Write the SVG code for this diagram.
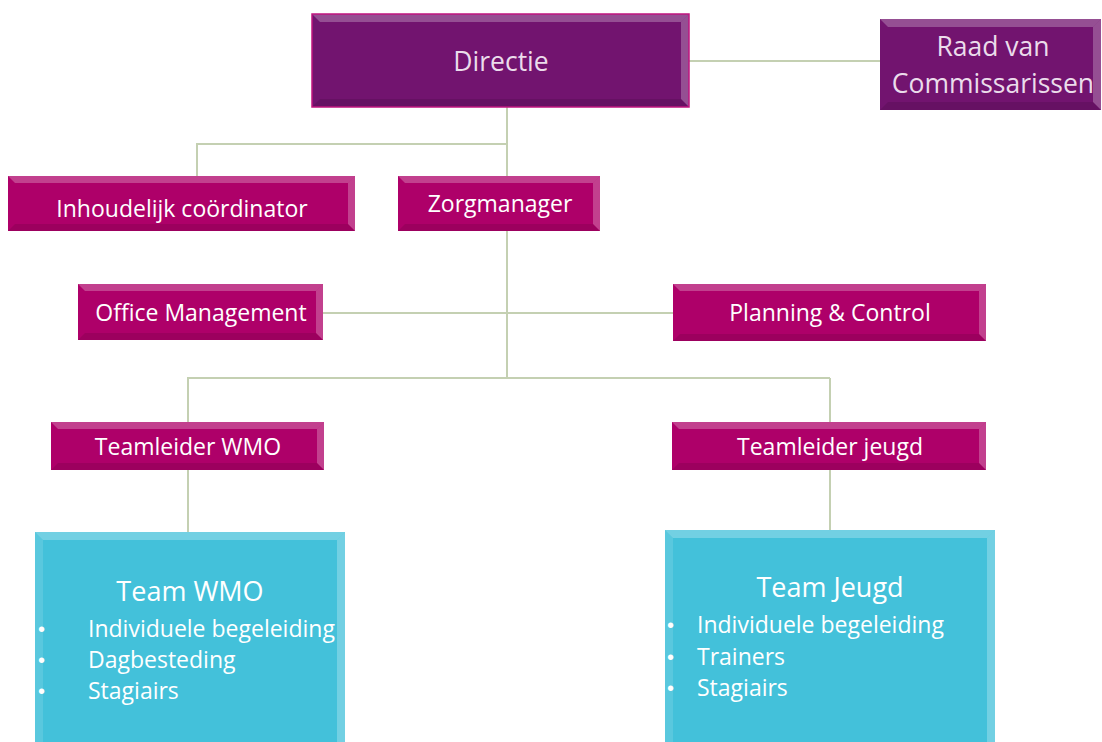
<svg xmlns="http://www.w3.org/2000/svg" width="1102" height="742" viewBox="0 0 1102 742">
<style>
.t{font-family:"Open Sans","Liberation Sans",sans-serif;fill:#ffffff;text-anchor:middle}
.s{font-size:23px}
.l{text-anchor:start}
.tp{fill:#EBDCEB}
.purple{fill:#72146F}
.mag{fill:#AE0069}
.cyan{fill:#43C1DA}
.hi{fill:#ffffff;fill-opacity:0.25}
.hi2{fill:#ffffff;fill-opacity:0.12}
.sh{fill:#000000;fill-opacity:0.10}
.conn{stroke:#C4D0B2;stroke-width:2;fill:none}
.b{font-family:"Liberation Sans",sans-serif;fill:#ffffff}
</style>
<rect width="1102" height="742" fill="#ffffff"/>
<g id="connectors">
<path class="conn" d="M689 61H880"/>
<path class="conn" d="M507 107V176"/>
<path class="conn" d="M507 144H197V176"/>
<path class="conn" d="M507 231V378"/>
<path class="conn" d="M323 313H673"/>
<path class="conn" d="M187 378H830"/>
<path class="conn" d="M188 378V422"/>
<path class="conn" d="M830 378V422"/>
<path class="conn" d="M188 470V532"/>
<path class="conn" d="M830 470V530"/>
</g>
<g id="directie">
<rect class="purple" x="312" y="14" width="377" height="93"/>
<polygon class="hi" points="312,14 689,14 681,22 320,22"/>
<polygon class="hi" points="689,14 689,107 681,99 681,22"/>
<polygon class="sh" points="312,107 689,107 681,99 320,99"/>
<rect x="312" y="14" width="377" height="93" fill="none" stroke="#C0157F" stroke-width="1.5"/>
<text class="t tp" x="501" y="71" font-size="26.5">Directie</text>
</g>
<g id="raad">
<rect class="purple" x="880" y="19" width="221" height="91"/>
<polygon class="hi" points="880,19 1101,19 1093,27 888,27"/>
<polygon class="hi" points="1101,19 1101,110 1093,102 1093,27"/>
<polygon class="sh" points="880,110 1101,110 1093,102 888,102"/>
<text class="t tp" x="993" y="56" font-size="26.5">Raad van</text>
<text class="t tp" x="993" y="93" font-size="26.5">Commissarissen</text>
</g>
<g id="inhoudelijk">
<rect class="mag" x="8" y="176" width="347" height="55"/>
<polygon class="hi" points="8,176 355,176 348,183 15,183"/>
<polygon class="hi" points="355,176 355,231 348,224 348,183"/>
<polygon class="sh" points="8,231 355,231 348,224 15,224"/>
<text class="t s" x="182" y="217">Inhoudelijk coördinator</text>
</g>
<g id="zorgmanager">
<rect class="mag" x="398" y="176" width="202" height="55"/>
<polygon class="hi" points="398,176 600,176 593,183 405,183"/>
<polygon class="hi" points="600,176 600,231 593,224 593,183"/>
<polygon class="sh" points="398,231 600,231 593,224 405,224"/>
<text class="t s" x="500" y="212">Zorgmanager</text>
</g>
<g id="office">
<rect class="mag" x="78" y="284" width="245" height="56"/>
<polygon class="hi" points="78,284 323,284 316,291 85,291"/>
<polygon class="hi" points="323,284 323,340 316,333 316,291"/>
<polygon class="sh" points="78,340 323,340 316,333 85,333"/>
<text class="t s" x="201" y="321">Office Management</text>
</g>
<g id="planning">
<rect class="mag" x="673" y="284" width="313" height="57"/>
<polygon class="hi" points="673,284 986,284 979,291 680,291"/>
<polygon class="hi" points="986,284 986,341 979,334 979,291"/>
<polygon class="sh" points="673,341 986,341 979,334 680,334"/>
<text class="t s" x="830" y="321">Planning &amp; Control</text>
</g>
<g id="teamleider-wmo">
<rect class="mag" x="51" y="422" width="273" height="48"/>
<polygon class="hi" points="51,422 324,422 317,429 58,429"/>
<polygon class="hi" points="324,422 324,470 317,463 317,429"/>
<polygon class="sh" points="51,470 324,470 317,463 58,463"/>
<text class="t s" x="188" y="455">Teamleider WMO</text>
</g>
<g id="teamleider-jeugd">
<rect class="mag" x="672" y="422" width="314" height="48"/>
<polygon class="hi" points="672,422 986,422 979,429 679,429"/>
<polygon class="hi" points="986,422 986,470 979,463 979,429"/>
<polygon class="sh" points="672,470 986,470 979,463 679,463"/>
<text class="t s" x="830" y="455">Teamleider jeugd</text>
</g>
<g id="team-wmo">
<rect class="cyan" x="35" y="532" width="310" height="215"/>
<polygon class="hi" points="35,532 345,532 337,540 43,540"/>
<polygon class="hi" points="345,532 345,747 337,747 337,540"/>
<polygon class="hi2" points="35,532 43,540 43,747 35,747"/>
<text class="t" x="190" y="601" font-size="27">Team WMO</text>
<text class="b" x="38" y="636" font-size="20">•</text>
<text class="b" x="38" y="667" font-size="20">•</text>
<text class="b" x="38" y="698" font-size="20">•</text>
<text class="t l" x="88" y="637" font-size="23">Individuele begeleiding</text>
<text class="t l" x="88" y="668" font-size="23">Dagbesteding</text>
<text class="t l" x="88" y="699" font-size="23">Stagiairs</text>
</g>
<g id="team-jeugd">
<rect class="cyan" x="665" y="530" width="330" height="217"/>
<polygon class="hi" points="665,530 995,530 987,538 673,538"/>
<polygon class="hi" points="995,530 995,747 987,747 987,538"/>
<polygon class="hi2" points="665,530 673,538 673,747 665,747"/>
<text class="t" x="830" y="597" font-size="27">Team Jeugd</text>
<text class="b" x="667" y="632" font-size="20">•</text>
<text class="b" x="667" y="664" font-size="20">•</text>
<text class="b" x="667" y="695" font-size="20">•</text>
<text class="t l" x="697" y="633" font-size="23">Individuele begeleiding</text>
<text class="t l" x="697" y="665" font-size="23">Trainers</text>
<text class="t l" x="697" y="696" font-size="23">Stagiairs</text>
</g>
</svg>
